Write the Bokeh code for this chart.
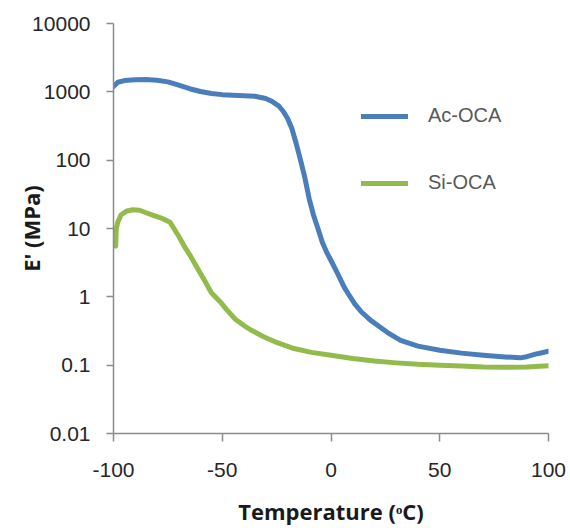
from bokeh.plotting import figure
from bokeh.models import Range1d, FixedTicker, Legend, LegendItem, ColumnDataSource
from bokeh.embed import file_html
from bokeh.resources import INLINE

# ---- data ----
ac_temp = [-100, -98, -95, -90, -85, -80, -75, -70, -65, -60, -55, -50, -45, -40, -35,
           -30, -27, -24, -22, -20, -18, -16, -14, -12, -10, -8, -6, -4, -2, 0,
           3, 6, 8, 11, 14, 18, 22, 26, 32, 40, 50, 60, 70, 80, 87, 90, 94, 97, 100]
ac_modulus = [1200, 1380, 1460, 1500, 1510, 1480, 1400, 1250, 1110, 1010, 945, 910, 890, 875, 860,
              800, 720, 620, 520, 410, 290, 175, 100, 55, 27, 15.5, 10, 6.3, 4.5, 3.4,
              2.2, 1.4, 1.1, 0.78, 0.6, 0.46, 0.37, 0.3, 0.23, 0.19, 0.165, 0.15, 0.14, 0.132, 0.128,
              0.133, 0.145, 0.152, 0.16]

si_temp = [-99, -98.7, -98, -96.5, -94, -91, -88, -85, -82, -78, -74, -70, -67, -64.5, -61,
           -58, -55, -51, -48, -44, -40, -37, -31, -25, -17, -9, 0, 10, 20, 30, 40, 50, 60,
           70, 80, 90, 100]
si_modulus = [5.5, 10, 12.5, 15.9, 18, 18.8, 18.5, 17, 15.7, 14.2, 12.3, 7.7, 5.2, 3.9, 2.5,
              1.7, 1.15, 0.85, 0.65, 0.47, 0.38, 0.33, 0.26, 0.215, 0.175, 0.154, 0.14, 0.125,
              0.115, 0.108, 0.103, 0.1, 0.097, 0.094, 0.093, 0.094, 0.098]

series_names = ["Ac-OCA", "Si-OCA"]

x_ticks = [-100, -50, 0, 50, 100]
x_tick_labels = ["-100", "-50", "0", "50", "100"]
y_ticks = [0.01, 0.1, 1, 10, 100, 1000, 10000]
y_tick_labels = ["0.01", "0.1", "1", "10", "100", "1000", "10000"]

x_title = "Temperature (\u1d52C)"
y_title = "E' (MPa)"

# ---- figure ----
p = figure(width=570, height=528, output_backend="svg", toolbar_location=None,
           x_range=Range1d(-100, 100), y_range=Range1d(0.01, 10000), y_axis_type="log",
           min_border_left=113, min_border_right=22, min_border_top=23, min_border_bottom=94)
p.outline_line_color = None
p.xgrid.visible = False
p.ygrid.visible = False
p.background_fill_color = "white"
p.border_fill_color = "white"

blue = "#4A7EBB"
green = "#93BB4C"

src_ac = ColumnDataSource(dict(x=ac_temp, y=ac_modulus))
src_si = ColumnDataSource(dict(x=si_temp, y=si_modulus))
r_ac = p.line("x", "y", source=src_ac, line_color=blue, line_width=5, line_join="round", line_cap="round")
r_si = p.line("x", "y", source=src_si, line_color=green, line_width=5, line_join="round", line_cap="round")

axis_color = "#8C8C8C"
tick_font = "Liberation Sans"
title_font = "Open Sans"

xa = p.xaxis[0]
xa.ticker = FixedTicker(ticks=x_ticks)
xa.major_label_overrides = {t: l for t, l in zip(x_ticks, x_tick_labels)}
xa.axis_line_color = axis_color
xa.axis_line_width = 1.5
xa.major_tick_line_color = axis_color
xa.major_tick_line_width = 1.5
xa.major_tick_out = 8
xa.major_tick_in = 0
xa.minor_tick_out = 0
xa.minor_tick_in = 0
xa.major_label_text_font = tick_font
xa.major_label_text_font_size = "21px"
xa.major_label_text_color = "#262626"
xa.major_label_standoff = 21
xa.axis_label = x_title
xa.axis_label_text_font = title_font
xa.axis_label_text_font_style = "bold"
xa.axis_label_text_font_size = "22px"
xa.axis_label_text_color = "#1a1a1a"
xa.axis_label_standoff = 16

ya = p.yaxis[0]
ya.ticker = FixedTicker(ticks=y_ticks)
ya.major_label_overrides = {t: l for t, l in zip(y_ticks, y_tick_labels)}
ya.axis_line_color = axis_color
ya.axis_line_width = 1.5
ya.major_tick_line_color = axis_color
ya.major_tick_line_width = 1.5
ya.major_tick_out = 7
ya.major_tick_in = 0
ya.minor_tick_out = 0
ya.minor_tick_in = 0
ya.major_label_text_font = tick_font
ya.major_label_text_font_size = "21px"
ya.major_label_text_color = "#262626"
ya.major_label_standoff = 16
ya.axis_label = y_title
ya.axis_label_text_font = title_font
ya.axis_label_text_font_style = "bold"
ya.axis_label_text_font_size = "22px"
ya.axis_label_text_color = "#1a1a1a"
ya.axis_label_standoff = -17

legend = Legend(items=[LegendItem(label=series_names[0], renderers=[r_ac]),
                       LegendItem(label=series_names[1], renderers=[r_si])],
                location=(248, 239), orientation="vertical",
                glyph_width=47, glyph_height=20, label_height=20, label_standoff=20,
                spacing=44, padding=0, margin=0,
                border_line_alpha=0, background_fill_alpha=0,
                label_text_font=tick_font, label_text_font_size="20px",
                label_text_color="#595959")
p.add_layout(legend, "center")

open("out.html", "w").write(file_html(p, INLINE))
